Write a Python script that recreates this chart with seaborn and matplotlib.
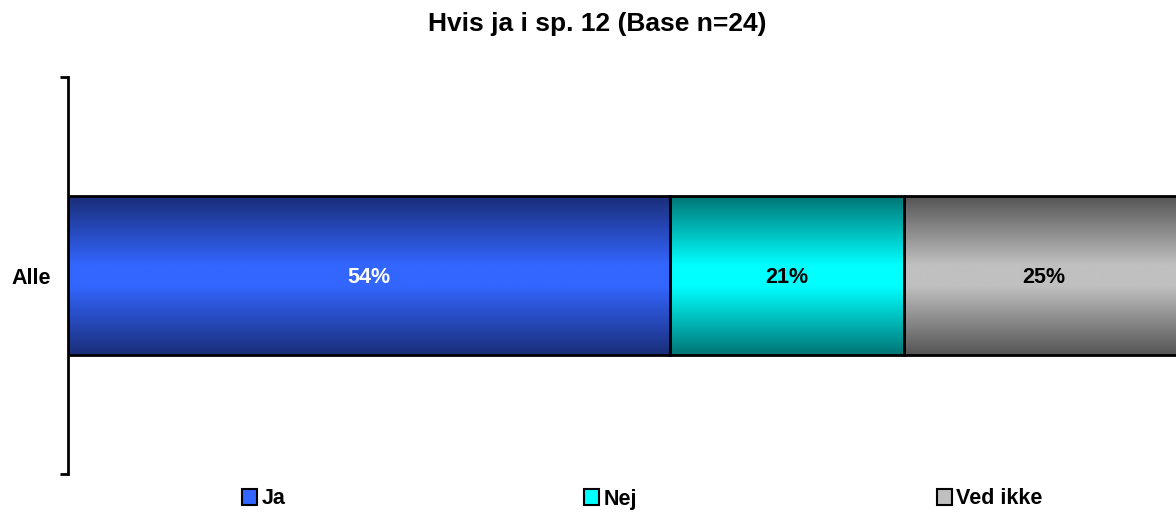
import numpy as np
import pandas as pd
import matplotlib
matplotlib.use("Agg")
import matplotlib.pyplot as plt
import seaborn as sns
from matplotlib.colors import LinearSegmentedColormap
from matplotlib.patches import Rectangle, Patch

# data
categories = ["Alle"]
series = ["Ja", "Nej", "Ved ikke"]
ja = [54]
nej = [21]
ved_ikke = [25]
title = "Hvis ja i sp. 12 (Base n=24)"

# colours: (dark edge, bright middle)
dark_cols = ["#1a2d78", "#007575", "#555555"]
mid_cols = ["#3366ff", "#00ffff", "#c0c0c0"]
text_cols = ["white", "black", "black"]

sns.set_theme(style="white")
plt.rcParams["font.family"] = ["Liberation Sans", "DejaVu Sans"]
plt.rcParams["text.color"] = "black"
plt.rcParams["ytick.color"] = "black"
plt.rcParams["ytick.labelcolor"] = "black"

fig = plt.figure(figsize=(11.76, 5.13), dpi=100)
ax = fig.add_axes([68 / 1176, 1 - 474 / 513, 1115 / 1176, (474 - 77) / 513])

values = [ja, nej, ved_ikke]
starts = np.cumsum([[0] * len(categories)] + values[:-1], axis=0)
df = pd.DataFrame({"Kategori": categories * len(series),
                   "Serie": np.repeat(series, len(categories)),
                   "Start": np.concatenate(starts),
                   "Værdi": np.concatenate(values)})
df["Slut"] = df["Start"] + df["Værdi"]

# draw cumulative bars back to front so they stack
order = list(range(len(series)))[::-1]
for i in order:
    sub = df[df["Serie"] == series[i]]
    sns.barplot(data=sub, x="Slut", y="Kategori", color=mid_cols[i],
                width=0.4, ax=ax, orient="h", saturation=1)

# vertical gradient: dark at top and bottom, bright in the middle
t = np.linspace(0, 1, 200)
grad = np.clip((1 - np.abs(2 * t - 1)) * 1.15, 0, 1).reshape(-1, 1)
z = 3
for k, i in enumerate(order):
    cmap = LinearSegmentedColormap.from_list(f"g{i}", [dark_cols[i], mid_cols[i]])
    val = df[df["Serie"] == series[i]]["Værdi"].to_numpy()
    for j, p in enumerate(ax.patches[k * len(categories):(k + 1) * len(categories)]):
        x0, y0, w, h = p.get_x(), p.get_y(), p.get_width(), p.get_height()
        start = x0 + w - val[j]
        im = ax.imshow(grad, cmap=cmap, aspect="auto", vmin=0, vmax=1,
                       extent=[x0, x0 + w, y0 + h, y0], zorder=z,
                       interpolation="bilinear")
        im.set_clip_path(p)
        ax.add_patch(Rectangle((start, y0), val[j], h, fill=False,
                               edgecolor="black", linewidth=2, zorder=z + 1))
        ax.text(start + val[j] / 2, y0 + h / 2 + 0.005, f"{val[j]}%",
                ha="center", va="center", color=text_cols[i],
                fontsize=15.5, fontweight="bold", zorder=z + 2)
        z += 3

ax.set_xlim(0, 100)
ax.set_ylim(0.5, -0.5)
ax.set_xlabel("")
ax.set_ylabel("")
ax.set_xticks([])
for s in ["top", "right", "bottom"]:
    ax.spines[s].set_visible(False)
ax.spines["left"].set_color("black")
ax.spines["left"].set_linewidth(2)
ax.tick_params(axis="y", which="major", length=0, pad=12, labelsize=15.5)
for lab in ax.get_yticklabels():
    lab.set_fontweight("bold")
ax.set_yticks([-0.5, 0.5], minor=True)
ax.tick_params(axis="y", which="minor", left=True, length=6, width=2, color="black")

fig.suptitle(title, fontsize=19, fontweight="bold", x=597 / 1176, y=1 - 24 / 513, va="center")

handles = [Patch(facecolor=mid_cols[i], edgecolor="black", linewidth=1.5) for i in range(len(series))]
fig.legend(handles, series, loc="center", bbox_to_anchor=(0.546, 1 - 499 / 513), ncol=3,
           frameon=False, prop={"weight": "bold", "size": 15.5}, handlelength=0.7,
           handleheight=0.7, handletextpad=0.2, columnspacing=13.9)

fig.savefig("out.png", dpi=100)
